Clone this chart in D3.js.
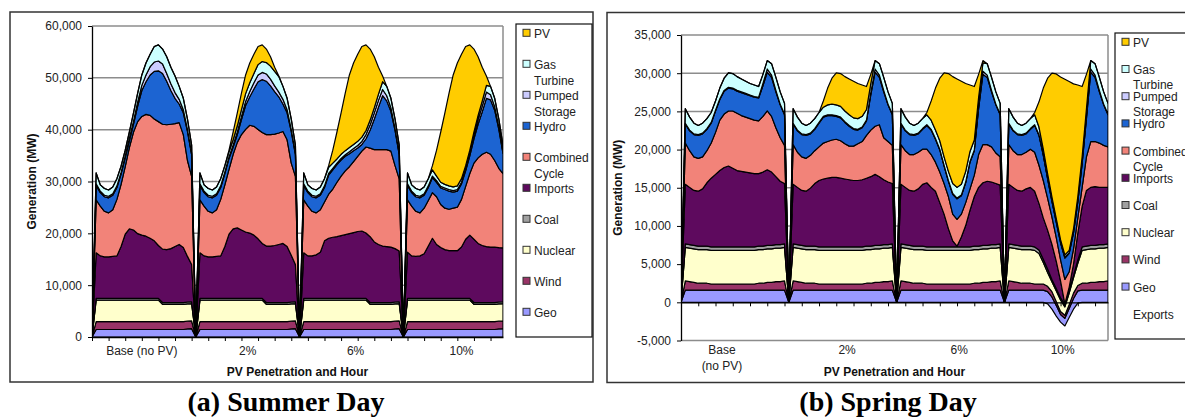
<!DOCTYPE html>
<html>
<head>
<meta charset="utf-8">
<script src="https://cdn.jsdelivr.net/npm/d3@7"></script>
<style>
  body { margin: 0; background: #fff; }
  svg { display: block; font-family: Arial, "Liberation Sans", sans-serif; }
</style>
</head>
<body>
<svg width="1185" height="418"></svg>
<script>
// all generation values in thousand MW, hour 1..24 for each day
const dayNames = ["Base (no PV)", "2%", "6%", "10%"];

// ---- Summer day ----
const summerGeo = [1.45,1.45,1.45,1.45,1.45,1.45,1.45,1.45,1.45,1.45,1.45,1.45,1.45,1.45,1.45,1.45,1.45,1.45,1.45,1.45,1.45,1.45,1.55,1.6];
const summerWind = [1.5,1.5,1.5,1.5,1.5,1.5,1.5,1.5,1.5,1.5,1.5,1.5,1.5,1.5,1.5,1.5,1.5,1.5,1.5,1.5,1.5,1.5,1.5,1.5];
const summerNuclear = [4.15,4.15,4.15,4.15,4.15,4.15,4.15,4.15,4.15,4.15,4.15,4.15,4.15,4.15,4.15,4.15,3.35,3.35,3.35,3.35,3.35,3.35,3.35,3.35];
const summerCoal = [0.35,0.35,0.35,0.35,0.35,0.35,0.35,0.35,0.35,0.35,0.35,0.35,0.35,0.35,0.35,0.35,0.35,0.35,0.35,0.35,0.35,0.35,0.35,0.35];
const summerImports = [
  [8.8,8.2,8.0,8.0,8.1,8.2,10.0,12.4,13.4,13.2,12.5,12.2,12.0,11.6,11.1,10.2,10.3,10.2,10.4,10.8,11.2,10.6,8.8,7.2],
  [8.8,8.2,8.0,8.0,8.1,8.2,10.0,12.4,13.4,13.6,13.2,12.8,12.6,12.2,11.5,10.6,10.9,10.9,11.0,11.2,11.4,10.8,9.0,7.2],
  [8.8,8.2,8.2,8.4,8.9,11.1,11.6,11.8,11.9,12.1,12.3,12.5,12.7,12.9,13.0,12.6,12.7,11.7,11.2,10.9,10.8,10.7,10.3,9.8],
  [8.9,8.2,8.1,8.2,8.6,10.1,11.6,10.4,9.8,9.4,9.2,9.2,9.2,9.9,11.4,12.2,12.2,11.4,11.0,10.8,10.7,10.7,10.5,10.4]
];
const summerCC = [
  [10.2,9.6,8.8,8.5,9.0,10.9,12.0,13.0,15.7,18.9,21.6,22.9,23.5,23.7,23.5,23.9,24.1,24.1,24.0,23.7,23.5,21.8,18.5,17.0],
  [10.2,9.6,8.8,8.5,9.0,10.9,11.9,12.5,14.4,16.5,18.4,19.8,20.8,21.0,21.1,21.4,21.5,21.5,21.5,21.5,21.6,20.6,17.8,17.0],
  [10.2,9.6,8.6,8.1,8.2,7.5,8.5,9.3,10.5,11.5,12.3,12.9,13.7,14.5,15.4,16.6,17.1,17.8,18.3,18.6,18.7,18.5,16.0,13.9],
  [10.1,9.6,8.7,8.3,8.8,8.8,8.8,9.2,8.3,8.0,8.0,8.2,8.4,9.2,10.2,11.9,14.7,16.5,17.6,18.2,17.9,16.7,15.3,14.3]
];
const summerHydro = [
  [2.8,2.6,2.8,2.9,2.8,2.3,2.0,1.7,1.3,1.5,3.0,5.0,6.3,7.8,9.2,9.8,9.8,8.4,6.5,4.9,3.6,4.2,5.6,4.2],
  [2.8,2.6,2.8,2.9,2.8,2.3,2.2,2.1,1.4,1.5,2.9,4.6,5.5,7.2,9.2,10.2,10.3,9.4,8.2,7.0,5.3,5.2,6.1,4.2],
  [2.8,2.6,2.8,2.9,2.8,2.8,3.7,3.7,3.4,3.1,2.8,2.5,2.1,1.6,1.3,1.6,3.5,5.9,8.2,10.4,9.4,7.7,6.8,4.7],
  [2.8,2.6,2.8,2.9,2.5,2.5,2.9,2.8,3.2,3.6,3.5,3.1,3.1,3.0,3.0,3.4,4.7,6.5,8.2,10.4,10.5,9.7,7.5,3.9]
];
const summerPumped = [
  [0.3,0.3,0.3,0.3,0.3,0.3,0.3,0.4,0.5,0.6,0.8,1.0,1.3,1.6,1.8,1.9,1.8,1.5,1.3,1.1,0.9,0.6,0.4,0.3],
  [0.3,0.3,0.3,0.3,0.3,0.3,0.3,0.3,0.4,0.5,0.6,0.8,1.0,1.2,1.3,1.4,1.4,1.3,1.1,0.9,0.9,0.6,0.4,0.3],
  [0.3,0.3,0.3,0.3,0.3,0.3,0.3,0.3,0.3,0.3,0.3,0.4,0.4,0.5,0.6,0.8,1.0,1.2,1.3,1.2,1.0,0.7,0.4,0.3],
  [0.3,0.3,0.3,0.3,0.3,0.3,0.3,0.3,0.3,0.3,0.3,0.3,0.3,0.3,0.3,0.4,0.6,0.9,1.1,1.2,1.0,0.7,0.5,0.3]
];
const summerGasTurbine = [
  [2.1,1.2,1.3,1.2,1.3,1.4,1.2,1.1,1.2,1.6,1.7,2.0,2.3,2.4,3.0,3.1,2.9,3.2,3.2,3.2,2.5,2.2,2.0,1.5],
  [2.1,1.2,1.3,1.2,1.3,1.4,1.2,1.0,1.0,1.2,1.3,1.5,1.7,1.8,2.0,2.1,2.2,2.5,2.8,3.0,2.5,2.2,2.0,1.5],
  [2.1,1.2,1.3,1.2,1.3,1.4,1.2,1.0,0.8,0.8,0.8,0.8,0.8,0.8,0.8,0.8,0.9,1.0,1.2,1.5,1.8,1.8,1.8,1.5],
  [2.1,1.2,1.3,1.2,1.3,1.4,1.2,0.9,0.8,0.7,0.7,0.7,0.7,0.7,0.7,0.7,0.7,0.8,1.0,1.3,1.6,1.6,1.5,1.3]
];
const summerPV = [
  [0,0,0,0,0,0,0,0,0,0,0,0,0,0,0,0,0,0,0,0,0,0,0,0],
  [0,0,0,0,0,0,0,0.3,1.5,2.5,3.2,3.6,3.8,3.7,3.5,3.2,2.6,1.8,0.8,0.1,0,0,0,0],
  [0,0,0,0,0,0,0.3,2.5,5.2,8.0,11.1,14.0,15.7,16.8,17.5,16.5,13.7,9.8,5.2,1.1,0,0,0,0],
  [0,0,0,0,0,0,0.8,5.0,9.7,13.8,17.9,21.6,23.7,24.0,23.0,20.3,16.0,11.3,6.5,1.8,0,0,0,0]
];

// ---- Spring day ----
const springGeo = [1.6,1.6,1.6,1.6,1.6,1.6,1.6,1.6,1.6,1.6,1.6,1.6,1.6,1.6,1.6,1.6,1.6,1.6,1.6,1.6,1.6,1.6,1.6,1.6];
const springWind = [1.2,1.1,1.0,0.9,0.9,0.9,0.8,0.8,0.8,0.8,0.8,0.8,0.8,0.8,0.8,0.8,0.8,0.9,0.9,1.0,1.0,1.1,1.1,1.2];
const springNuclear = [4.4,4.4,4.4,4.4,4.4,4.4,4.4,4.4,4.4,4.4,4.4,4.4,4.4,4.4,4.4,4.4,4.4,4.4,4.4,4.4,4.4,4.4,4.4,4.4];
const springCoal = [0.45,0.45,0.45,0.45,0.45,0.45,0.45,0.45,0.45,0.45,0.45,0.45,0.45,0.45,0.45,0.45,0.45,0.45,0.45,0.45,0.45,0.45,0.45,0.45];
// 10% day: must-run blocks squeezed and exports below zero around noon
const spring10Exports = [0,0,0,0,0,0,0,0,0,-0.2,-0.9,-1.8,-2.6,-3.1,-2.0,-0.9,-0.1,0,0,0,0,0,0,0];
const spring10Geo = [1.6,1.6,1.6,1.6,1.6,1.6,1.6,1.6,1.6,1.6,1.6,1.4,1.0,1.0,1.2,1.4,1.6,1.6,1.6,1.6,1.6,1.6,1.6,1.6];
const spring10Wind = [1.2,1.1,1.0,0.9,0.9,0.9,0.8,0.8,0.8,0.7,0.7,0.5,0.4,0.4,0.5,0.7,0.7,0.9,0.9,1.0,1.0,1.1,1.1,1.2];
const spring10Nuclear = [4.4,4.4,4.4,4.4,4.4,4.4,4.4,4.0,2.8,1.8,1.3,1.4,1.5,1.1,1.5,2.0,2.9,4.3,4.4,4.4,4.4,4.4,4.4,4.4];
const spring10Coal = [0.45,0.45,0.45,0.45,0.45,0.45,0.45,0.45,0.45,0.45,0.3,0.3,0.3,0.3,0.3,0.3,0.45,0.45,0.45,0.45,0.45,0.45,0.45,0.45];
const springImports = [
  [7.8,7.5,7.2,7.2,7.5,8.3,9.0,9.5,10.0,10.4,10.6,10.3,10.0,9.9,9.8,9.7,9.6,9.5,9.7,9.9,9.6,8.9,8.3,7.9],
  [7.8,7.5,7.2,7.2,7.6,8.2,8.7,8.9,9.0,9.1,9.1,9.0,8.9,8.8,8.7,8.7,8.8,8.9,9.1,9.3,9.0,8.5,8.2,7.9],
  [7.8,7.5,7.2,7.2,7.5,8.1,8.4,7.8,7.3,5.8,4.3,2.4,0.8,0.1,1.3,2.8,4.8,6.5,7.7,8.2,8.4,8.2,8.0,7.7],
  [7.8,7.5,7.2,7.2,7.5,7.7,7.3,6.1,5.4,5.1,4.6,3.6,2.2,0.1,0.5,1.5,3.5,5.3,7.3,7.6,7.7,7.5,7.5,7.4]
];
const springCC = [
  [5.4,4.8,4.4,4.3,4.2,4.2,4.6,5.5,6.6,7.0,7.2,7.5,7.5,7.3,7.2,7.1,7.0,6.9,7.3,7.7,7.3,6.4,5.7,5.0],
  [5.2,4.6,4.4,4.3,4.3,4.3,4.4,4.7,4.8,4.9,5.0,4.9,4.6,4.4,4.5,4.8,5.0,5.6,6.1,6.3,6.8,5.5,5.3,5.0],
  [5.2,4.8,4.7,4.8,4.8,4.6,4.4,4.3,3.8,4.0,4.0,4.2,3.5,3.5,3.0,3.0,2.8,2.8,4.3,5.0,4.8,4.6,4.0,3.7],
  [5.2,4.8,4.7,4.8,4.8,5.0,5.1,5.0,4.9,4.2,3.6,3.1,2.8,3.2,2.0,2.0,2.0,2.5,4.4,6.0,5.9,5.8,5.5,5.3]
];
const springHydro = [
  [2.5,2.6,2.9,3.0,3.0,2.8,2.6,2.8,2.7,3.0,3.0,2.9,2.9,3.0,3.0,3.0,3.0,3.0,4.0,5.1,5.1,4.7,4.3,4.0],
  [2.7,2.8,2.9,3.0,2.8,2.8,3.1,3.4,3.4,3.2,3.0,3.0,2.8,2.6,2.2,1.8,1.8,1.9,4.6,7.1,6.2,6.0,4.8,4.0],
  [2.7,2.6,2.6,2.5,2.4,2.6,3.1,3.2,3.0,2.9,2.3,2.0,2.6,2.7,2.4,2.6,3.5,3.2,6.0,9.2,8.8,7.2,6.3,5.5],
  [2.7,2.6,2.6,2.5,2.4,2.6,3.5,3.9,3.3,2.5,2.0,2.0,2.2,2.8,2.4,2.1,2.1,3.1,5.0,9.1,8.4,6.7,5.3,4.2]
];
const springPumped = [0.1,0.1,0.1,0.1,0.1,0.1,0.1,0.1,0.1,0.1,0.1,0.1,0.1,0.1,0.1,0.1,0.1,0.1,0.3,0.4,0.3,0.2,0.1,0.1];
const springGasTurbine = [
  [1.9,1.7,1.4,1.2,1.3,1.3,1.3,1.2,1.4,1.6,1.9,1.9,1.8,1.7,1.6,1.5,1.5,1.4,1.2,1.1,1.5,1.7,1.6,1.4],
  [1.9,1.7,1.4,1.2,1.3,1.3,1.3,1.2,1.3,1.4,1.4,1.4,1.4,1.4,1.4,1.4,1.4,1.4,1.2,1.1,1.5,1.7,1.6,1.4],
  [1.9,1.7,1.4,1.2,1.3,1.3,1.3,1.2,1.1,1.1,1.1,1.2,1.3,1.4,1.4,1.4,1.3,1.3,1.2,1.1,1.5,1.7,1.6,1.4],
  [1.9,1.7,1.4,1.2,1.3,1.3,1.3,1.0,0.7,0.6,0.5,0.4,0.3,0.3,0.3,0.4,0.6,0.8,1.0,1.1,1.5,1.7,1.6,1.4]
];
const springPV = [
  [0,0,0,0,0,0,0,0,0,0,0,0,0,0,0,0,0,0,0,0,0,0,0,0],
  [0,0,0,0,0,0,0,0.8,2.2,3.4,4.2,4.3,4.5,4.7,4.8,4.6,4.1,3.0,1.2,0,0,0,0,0],
  [0,0,0,0,0,0,0.3,2.5,5.5,8.2,11.0,12.8,14.0,14.2,13.5,11.5,8.7,7.0,3.0,0.3,0,0,0,0],
  [0,0,0,0,0,0,0.3,3.3,8.0,12.5,16.2,18.9,21.3,23.0,22.1,19.0,14.6,9.2,4.5,0,0,0,0,0]
];

// stacking order, bottom to top
const seriesKeys = ["exports","geo","wind","nuclear","coal","imports","cc","hydro","ps","gt","pv"];
const colors = {
  pv: "#ffcc00", gt: "#ccffff", ps: "#ccccff", hydro: "#1c64d2", cc: "#f28379",
  imports: "#5e0a5e", coal: "#a0a0a0", nuclear: "#ffffcc", wind: "#993366", geo: "#9999ff"
};
const legendItems = [
  ["pv", ["PV"]], ["gt", ["Gas", "Turbine"]], ["ps", ["Pumped", "Storage"]], ["hydro", ["Hydro"]],
  ["cc", ["Combined", "Cycle"]], ["imports", ["Imports"]], ["coal", ["Coal"]],
  ["nuclear", ["Nuclear"]], ["wind", ["Wind"]], ["geo", ["Geo"]]
];

const svg = d3.select("svg");
const fmt = d => d3.format(",")(d).replace("\u2212", "-");

function drawPanel(cfg) {
  const g = svg.append("g");

  // 4 days of 24 hours, each day preceded by a zero point
  const rows = [];
  for (let d = 0; d < 4; d++) {
    rows.push(Object.fromEntries(seriesKeys.map(k => [k, 0])));
    for (let h = 0; h < 24; h++) {
      rows.push(Object.fromEntries(seriesKeys.map(k =>
        [k, cfg.data[k] && cfg.data[k][d] ? cfg.data[k][d][h] * 1000 : 0])));
    }
  }

  const x = d3.scaleLinear().domain([0, rows.length - 1]).range([cfg.left, cfg.right]);
  const y = d3.scaleLinear().domain(cfg.yDomain).range([cfg.bottom, cfg.top]);
  const layers = d3.stack().keys(seriesKeys)(rows);

  g.append("rect")
    .attr("x", cfg.frame[0]).attr("y", cfg.frame[1])
    .attr("width", cfg.frame[2]).attr("height", cfg.frame[3])
    .attr("fill", "#fff").attr("stroke", "#333").attr("stroke-width", 1.5);

  // gridlines + plot border
  g.selectAll(".grid").data(cfg.yTicks).join("line")
    .attr("x1", cfg.left).attr("x2", cfg.right)
    .attr("y1", d => y(d)).attr("y2", d => y(d))
    .attr("stroke", "#8c8c8c").attr("stroke-width", 1.5);
  g.append("line")
    .attr("x1", cfg.right).attr("x2", cfg.right)
    .attr("y1", cfg.top).attr("y2", cfg.bottom)
    .attr("stroke", "#8c8c8c").attr("stroke-width", 1.5);

  const clipId = "clip-" + cfg.id;
  g.append("clipPath").attr("id", clipId).append("rect")
    .attr("x", cfg.left).attr("y", cfg.top - 2)
    .attr("width", cfg.right - cfg.left).attr("height", cfg.bottom - cfg.top + 4);

  const area = d3.area()
    .x((d, i) => x(i))
    .y0(d => y(d[0]))
    .y1(d => y(d[1]));

  g.append("g").attr("clip-path", `url(#${clipId})`)
    .selectAll("path")
    .data(layers.filter(s => s.key !== "exports"))
    .join("path")
    .attr("d", area)
    .attr("fill", d => colors[d.key])
    .attr("stroke", "#000")
    .attr("stroke-width", 1.2)
    .attr("stroke-linejoin", "round");

  // axes
  const yAxis = g.append("g")
    .attr("transform", `translate(${cfg.left},0)`)
    .call(d3.axisLeft(y).tickValues(cfg.yTicks).tickSize(4).tickSizeOuter(0).tickPadding(6).tickFormat(fmt));
  yAxis.selectAll("text").attr("font-size", 12).attr("font-family", "Arial, 'Liberation Sans', sans-serif").attr("fill", "#222");
  yAxis.select(".domain").attr("stroke", "#000").attr("stroke-width", 1.3);

  const xAxis = g.append("g")
    .attr("transform", `translate(0,${y(0)})`)
    .call(d3.axisBottom(x).tickValues(d3.range(0, rows.length, 4)).tickSize(4).tickSizeOuter(0).tickFormat(""));
  xAxis.select(".domain").attr("stroke", "#000").attr("stroke-width", 1.3);

  // category labels
  const cat = g.selectAll(".cat").data(cfg.dayLabels).join("text")
    .attr("x", (d, i) => x(cfg.labelAt[i]))
    .attr("y", cfg.labelY)
    .attr("text-anchor", "middle")
    .attr("font-size", 12).attr("fill", "#222");
  cat.selectAll("tspan").data(d => d).join("tspan")
    .attr("x", function () { return d3.select(this.parentNode).attr("x"); })
    .attr("dy", (d, i) => i ? 16 : 0)
    .text(d => d);

  g.append("text")
    .attr("x", (cfg.left + cfg.right) / 2).attr("y", 376)
    .attr("text-anchor", "middle").attr("font-size", 12).attr("font-weight", "bold").attr("fill", "#111")
    .text("PV Penetration and Hour");
  g.append("text")
    .attr("transform", `translate(${cfg.yTitleX},${(cfg.top + cfg.bottom) / 2}) rotate(-90)`)
    .attr("text-anchor", "middle").attr("font-size", 12).attr("font-weight", "bold").attr("fill", "#111")
    .text("Generation (MW)");

  // legend
  const lg = g.append("g");
  lg.append("rect")
    .attr("x", cfg.legend.x).attr("y", cfg.legend.y)
    .attr("width", cfg.legend.w).attr("height", cfg.legend.h)
    .attr("fill", "#fff").attr("stroke", "#111").attr("stroke-width", 1.2);
  const items = lg.selectAll(".item").data(cfg.legendItems).join("g")
    .attr("transform", (d, i) => `translate(${cfg.legend.x + 7},${cfg.legend.first + i * cfg.legend.step})`);
  items.filter(d => colors[d[0]]).append("rect")
    .attr("x", 0).attr("y", -4).attr("width", 7).attr("height", 7)
    .attr("fill", d => colors[d[0]]).attr("stroke", "#333").attr("stroke-width", 1);
  items.append("text")
    .attr("x", 11).attr("y", 4.5)
    .attr("font-size", 12).attr("fill", "#222")
    .selectAll("tspan").data(d => d[1]).join("tspan")
    .attr("x", 11).attr("dy", (d, i) => i ? cfg.legend.lineGap : 0)
    .text(d => d);

  g.append("text")
    .attr("x", cfg.captionX).attr("y", 411)
    .attr("text-anchor", "middle")
    .attr("font-family", "'Liberation Serif', 'Times New Roman', serif")
    .attr("font-weight", "bold").attr("font-size", 28).attr("fill", "#000")
    .text(cfg.caption);
}

drawPanel({
  id: "summer",
  frame: [10, 12, 583, 370],
  left: 92, right: 503, top: 26, bottom: 337,
  yDomain: [0, 60000], yTicks: d3.range(0, 60001, 10000),
  yTitleX: 36,
  dayLabels: dayNames.map(d => [d]),
  labelAt: [12, 37.5, 63.5, 89], labelY: 355,
  legend: { x: 516, y: 24, w: 76, h: 313, first: 33.3, step: 31, lineGap: 16 },
  legendItems: legendItems,
  caption: "(a) Summer Day", captionX: 286,
  data: {
    geo: [summerGeo, summerGeo, summerGeo, summerGeo],
    wind: [summerWind, summerWind, summerWind, summerWind],
    nuclear: [summerNuclear, summerNuclear, summerNuclear, summerNuclear],
    coal: [summerCoal, summerCoal, summerCoal, summerCoal],
    imports: summerImports, cc: summerCC, hydro: summerHydro,
    ps: summerPumped, gt: summerGasTurbine, pv: summerPV
  }
});

drawPanel({
  id: "spring",
  frame: [607, 12.5, 600, 370],
  left: 681, right: 1108, top: 35, bottom: 340.5,
  yDomain: [-5000, 35000], yTicks: d3.range(-5000, 35001, 5000),
  yTitleX: 622,
  dayLabels: [["Base", "(no PV)"], ["2%"], ["6%"], ["10%"]],
  labelAt: [9.5, 38.5, 64.5, 88.5], labelY: 354,
  legend: { x: 1115, y: 33, w: 90, h: 306, first: 42.3, step: 27.2, lineGap: 15 },
  legendItems: legendItems.concat([["exports", ["Exports"]]]),
  caption: "(b) Spring Day", captionX: 888,
  data: {
    exports: [null, null, null, spring10Exports],
    geo: [springGeo, springGeo, springGeo, spring10Geo],
    wind: [springWind, springWind, springWind, spring10Wind],
    nuclear: [springNuclear, springNuclear, springNuclear, spring10Nuclear],
    coal: [springCoal, springCoal, springCoal, spring10Coal],
    imports: springImports, cc: springCC, hydro: springHydro,
    ps: [springPumped, springPumped, springPumped, springPumped],
    gt: springGasTurbine, pv: springPV
  }
});
</script>
</body>
</html>
